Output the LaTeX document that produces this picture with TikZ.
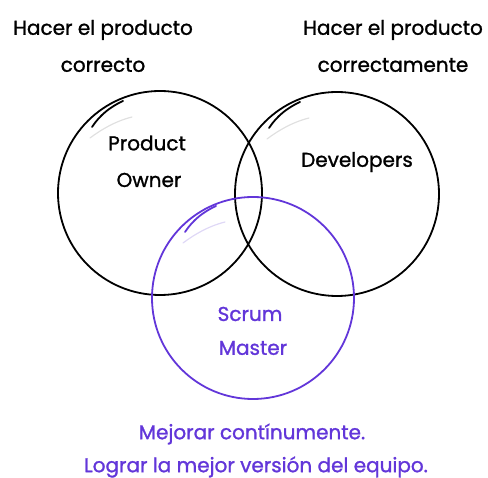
\documentclass[tikz,border=0pt]{standalone}
\usepackage{fontspec}
\setmainfont{Poppins}[FakeBold=1.2]
\definecolor{smpurple}{HTML}{6236D9}
\definecolor{smlilac}{HTML}{C9BEF0}
\begin{document}
\begin{tikzpicture}[x=1pt,y=-1pt,
  ring/.style={line width=1.8pt},
  txt/.style={font=\fontsize{20}{24}\selectfont, inner sep=0pt, anchor=center},
  accdark/.style={line width=1.8pt, line cap=round},
  acclight/.style={line width=1.2pt, line cap=round, opacity=0.6}]
\useasboundingbox (0,0) rectangle (488,478);

% the three role circles
\draw[ring, black] (160,193) circle[radius=102];
\draw[ring, black] (337,194) circle[radius=102];
\draw[ring, smpurple] (253,298) circle[radius=101];

% small highlight strokes inside each circle
\foreach \cx/\cy/\dk/\lt in {160/193/black/gray!40, 337/194/black/gray!40, 253/298/smpurple/smlilac} {
  \begin{scope}[shift={(\cx,\cy)}]
    \draw[accdark, \dk] (-68,-66) .. controls (-60,-78) and (-50,-86) .. (-37,-92);
    \draw[acclight, \lt] (-70,-55) .. controls (-58,-64) and (-44,-72) .. (-28,-76);
  \end{scope}
}

% labels
\node[txt] (po1) at (147,143) {Product};
\node[txt] (po2) at (149,180) {Owner};
\node[txt] (dev) at (357,162) {Developers};
\node[txt, text=smpurple] (sm1) at (250,314) {Scrum};
\node[txt, text=smpurple] (sm2) at (253,348) {Master};

\node[txt] (l1) at (103,30) {Hacer el producto};
\node[txt] (l2) at (103,65) {correcto};
\node[txt] (r1) at (393,30) {Hacer el producto};
\node[txt] (r2) at (393,65) {correctamente};

\node[txt, text=smpurple] (b1) at (252,434) {Mejorar contínumente.};
\node[txt, text=smpurple] (b2) at (256,467) {Lograr la mejor versión del equipo.};
\end{tikzpicture}
\end{document}
